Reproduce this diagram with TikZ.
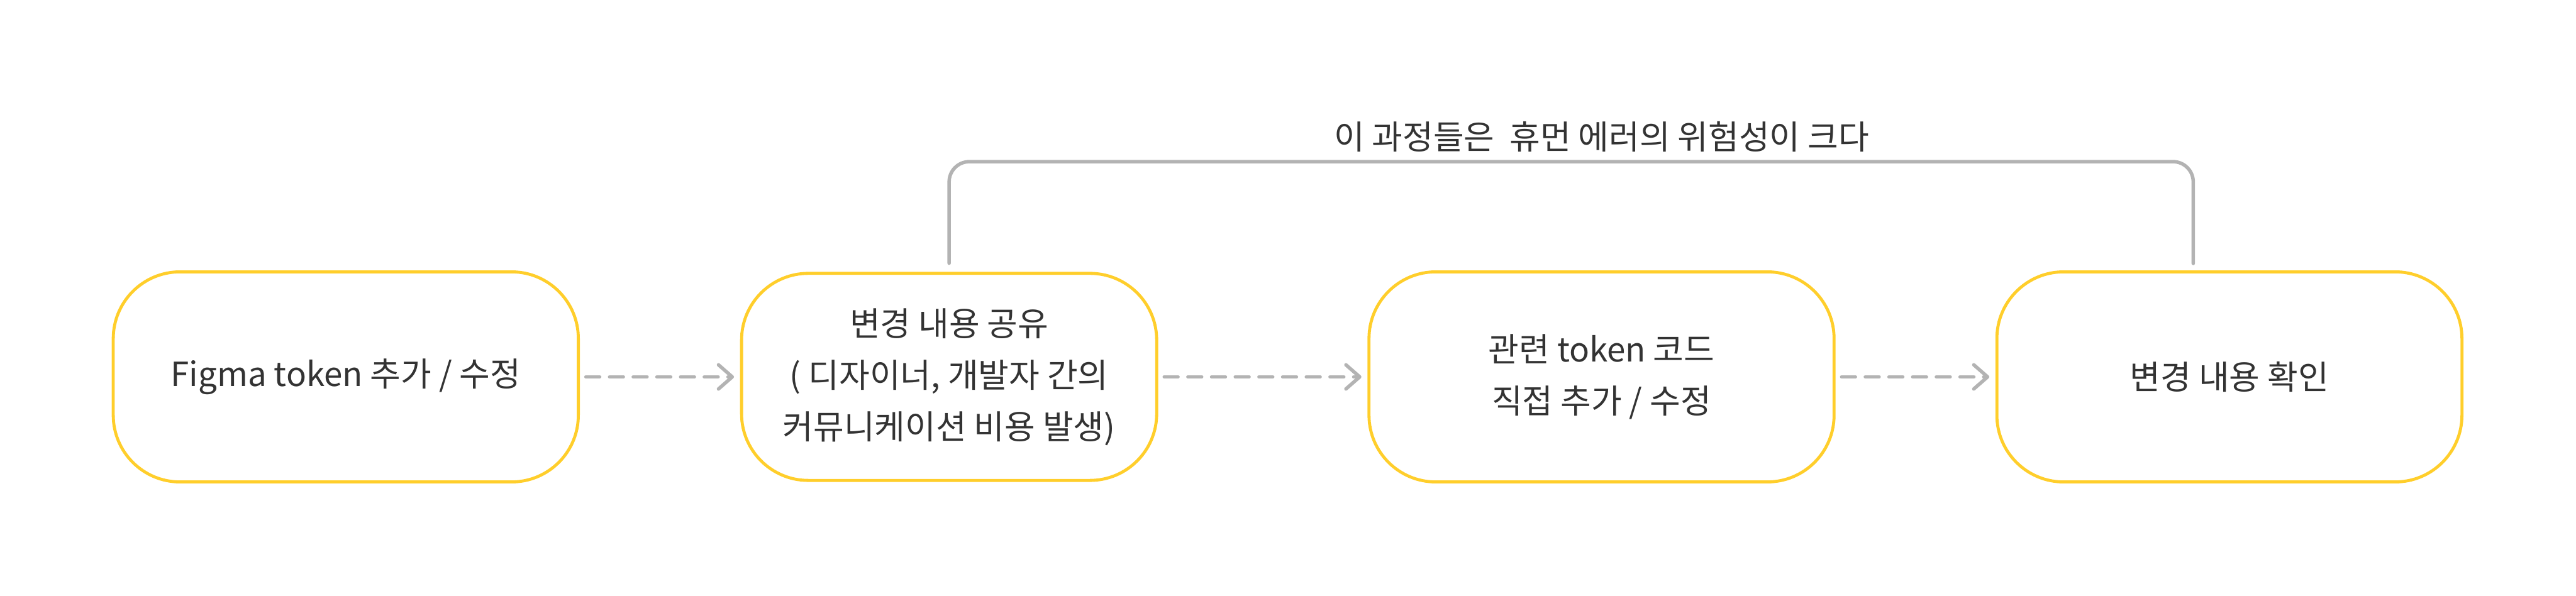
\documentclass[tikz,border=0pt]{standalone}
\usepackage{fontspec}
\setmainfont{Noto Sans CJK KR}
\usetikzlibrary{arrows.meta, positioning, calc}
\definecolor{boxyellow}{HTML}{FFCE2B}
\definecolor{linegray}{HTML}{B3B3B3}
\definecolor{textgray}{HTML}{333333}

\begin{document}
\begin{tikzpicture}[
    node distance=1.86cm,
    every node/.style={font=\fontsize{11}{17}\selectfont, text=textgray},
    flowbox/.style={rectangle, draw=boxyellow, line width=1pt, rounded corners=7.75mm, fill=white, minimum width=5.40cm, minimum height=2.44cm, align=center},
    arrow/.style={draw=linegray, line width=1.15pt, line cap=round, dash pattern=on 1.6mm off 1.15mm, -{Straight Barb[length=1.6mm, width=2.8mm, line cap=round, line join=round]}, shorten >=0.7mm, shorten <=0.7mm},
    loopline/.style={draw=linegray, line width=1.15pt, line cap=round, rounded corners=2.35mm}
]
\useasboundingbox (0,0) rectangle (29.91,6.92);

% steps
\node[flowbox] (figma) at (4.015,2.5425) {Figma token 추가 / 수정};
\node[flowbox, right=of figma, minimum width=4.82cm, minimum height=2.405cm] (share) {변경 내용 공유\\( 디자이너, 개발자 간의\\커뮤니케이션 비용 발생)};
\node[flowbox, right=2.43cm of share] (code) {관련 token 코드\\직접 추가 / 수정};
\node[flowbox, right=1.855cm of code] (check) {변경 내용 확인};

% arrows
\draw[arrow] (figma) -- (share);
\draw[arrow] (share) -- (code);
\draw[arrow] (code) -- (check);

% human error loop
\draw[loopline] ([yshift=1mm]share.north) -- ++(0,1.18) -| ([xshift=-4.2mm, yshift=0.8mm]check.north);
\node (risk) at ([yshift=1.55cm]code.north) {이 과정들은\ \ 휴먼 에러의 위험성이 크다};
\end{tikzpicture}
\end{document}
